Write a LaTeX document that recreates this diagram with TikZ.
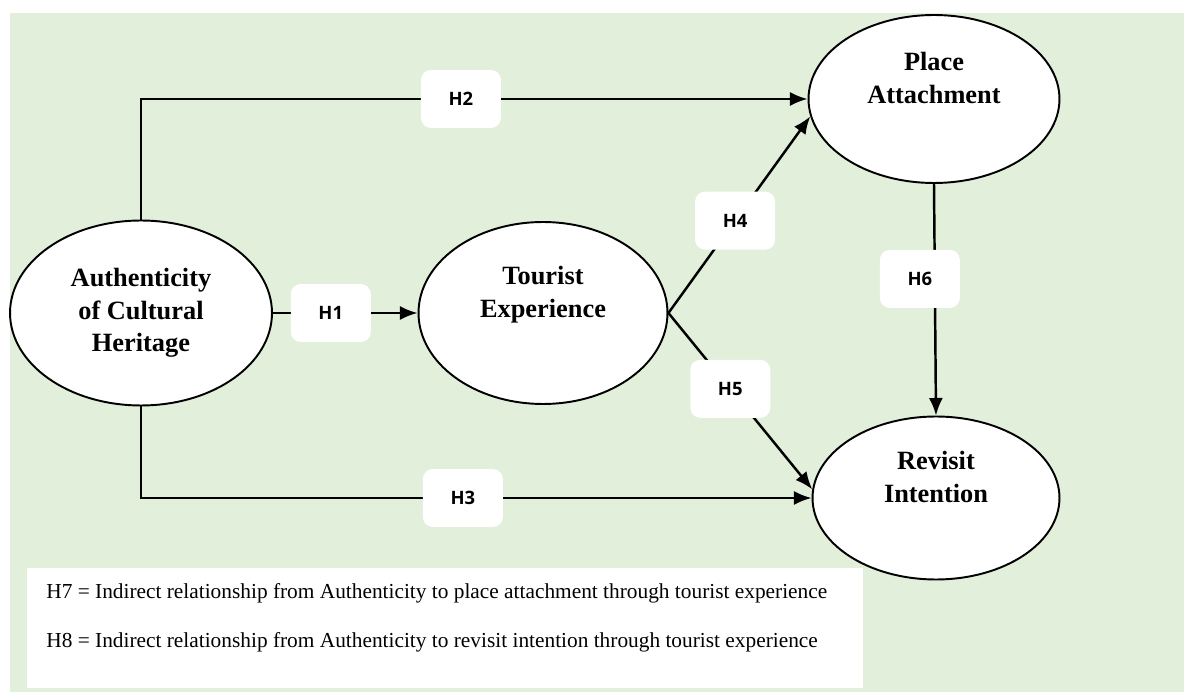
\documentclass[tikz,border=0pt]{standalone}
\usepackage{fontspec}
\setmainfont{Liberation Serif}
\newfontfamily\hypfont{Open Sans}
\usetikzlibrary{arrows.meta,shapes.geometric}
\definecolor{leaf}{RGB}{226,239,218}

\begin{document}
\begin{tikzpicture}[x=0.02cm,y=-0.02cm,>={Latex[length=10pt,width=8pt]},
    construct/.style={draw,ellipse,fill=white,line width=1.1pt,inner sep=0pt,
                      align=center,font=\bfseries\fontsize{15}{18.5}\selectfont},
    hyp/.style={fill=white,rounded corners=2mm,minimum width=16mm,
                minimum height=11.6mm,font=\hypfont\bfseries\fontsize{10.5}{12}\selectfont},
    link/.style={line width=1.4pt,->},
    note/.style={anchor=west,inner sep=0pt,font=\fontsize{12.15}{14}\selectfont}]
    \useasboundingbox (0,0) rectangle (1184,692);
    \fill[leaf] (10,13) rectangle (1184,692);

    \node[construct,minimum width=5.24cm,minimum height=3.7cm] (auth) at (141,313)
        {Authenticity\\of Cultural\\Heritage};
    \node[construct,minimum width=4.98cm,minimum height=3.64cm] (tour) at (543,313)
        {Tourist\\Experience\\\strut};
    \node[construct,minimum width=5.02cm,minimum height=3.36cm] (place) at (934,99)
        {Place\\Attachment\\\strut};
    \node[construct,minimum width=4.94cm,minimum height=3.26cm] (revisit) at (936,498)
        {Revisit\\Intention\\\strut};

    \draw[link] (auth.east) -- node[hyp,pos=0.4] (h1) {H1} (tour.west);
    \draw[link] (auth.north) |- node[hyp,pos=0.74] (h2) {H2} (place.west);
    \draw[link] (auth.south) |- node[hyp,pos=0.74] (h3) {H3} (revisit.west);
    \draw[link] (tour.east) -- node[hyp,pos=0.47] (h4) {H4} (place.188);
    \draw[link] (tour.east) -- node[hyp,pos=0.43] (h5) {H5} (revisit.176);
    \draw[link] (place.south) -- node[hyp,pos=0.41,xshift=-3mm] (h6) {H6} (revisit.north);

    \node[fill=white,anchor=north west,inner sep=0pt,minimum width=16.72cm,
          minimum height=2.4cm] (legend) at (27,568) {};
    \node[note] (h7) at (46,593)
        {H7 = Indirect relationship from Authenticity to place attachment through tourist experience};
    \node[note] (h8) at (46,642)
        {H8 = Indirect relationship from Authenticity to revisit intention through tourist experience};
\end{tikzpicture}
\end{document}
